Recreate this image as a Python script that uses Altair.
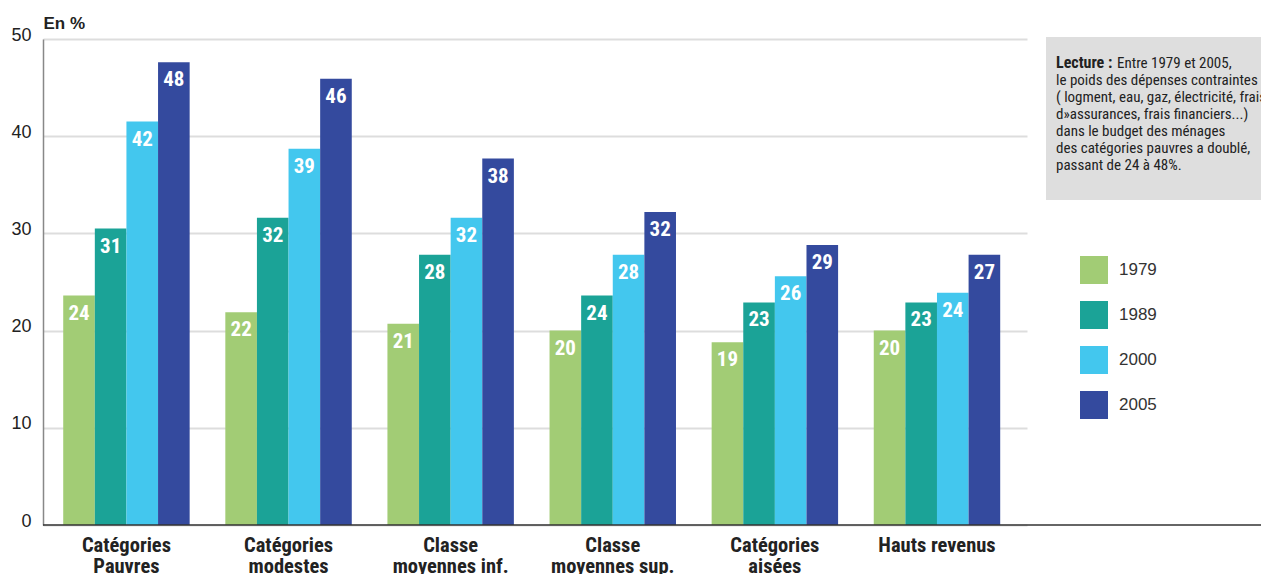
import altair as alt
import pandas as pd

categories = ["Catégories|Pauvres", "Catégories|modestes", "Classe|moyennes inf.",
              "Classe|moyennes sup.", "Catégories|aisées", "Hauts revenus"]
years = ["1979", "1989", "2000", "2005"]
colors = ["#a2cc75", "#1ba397", "#43c7ee", "#344a9e"]

# bar heights (en %)
v1979 = [23.6, 21.9, 20.7, 20.0, 18.8, 20.0]
v1989 = [30.5, 31.6, 27.8, 23.6, 22.9, 22.9]
v2000 = [41.5, 38.7, 31.6, 27.8, 25.6, 23.9]
v2005 = [47.6, 45.9, 37.7, 32.2, 28.8, 27.8]
# printed labels
l1979 = [24, 22, 21, 20, 19, 20]
l1989 = [31, 32, 28, 24, 23, 23]
l2000 = [42, 39, 32, 28, 26, 24]
l2005 = [48, 46, 38, 32, 29, 27]

lecture_bold = "Lecture :"
lecture_first = "Entre 1979 et 2005,"
lecture_rest = [
    "le poids des dépenses contraintes",
    "( logment, eau, gaz, électricité, frais",
    "d»assurances, frais financiers...)",
    "dans le budget des ménages",
    "des catégories pauvres a doublé,",
    "passant de 24 à 48%.",
]

rows = []
for y, vals, labs in zip(years, [v1979, v1989, v2000, v2005], [l1979, l1989, l2000, l2005]):
    for c, v, l in zip(categories, vals, labs):
        rows.append({"cat": c, "year": y, "value": v, "label": str(l)})
df = pd.DataFrame(rows)

NARROW = "Roboto Condensed, Roboto, Liberation Sans, sans-serif"
REG = "Liberation Sans, Arial, Helvetica, sans-serif"

x_enc = alt.X("cat:N", sort=categories, title=None,
              scale=alt.Scale(paddingInner=0.22, paddingOuter=0.145, align=0.43),
              axis=alt.Axis(labelExpr="split(datum.label, '|')", labelFont=NARROW,
                            labelFontSize=20.5, labelFontWeight="bold", labelColor="#222",
                            labelLineHeight=21, labelPadding=10, labelBaseline="top",
                            ticks=False, domain=False, grid=False, labelAngle=0))
xo_enc = alt.XOffset("year:N", sort=years, scale=alt.Scale(paddingInner=0, paddingOuter=0))
y_enc = alt.Y("value:Q", scale=alt.Scale(domain=[0, 50], nice=False),
              axis=alt.Axis(values=[0, 10, 20, 30, 40, 50], title="En %", titleAngle=0,
                            titleX=0, titleY=-16, titleAlign="left", titleBaseline="middle",
                            titleFont=REG, titleFontSize=17, titleFontWeight="bold",
                            titleColor="#222", labelFont=REG, labelFontSize=18,
                            labelColor="#222", labelPadding=12, labelOffset=-4,
                            ticks=False, domain=True, domainColor="#888", domainWidth=1.5,
                            grid=True, gridColor="#dddddd", gridWidth=2))

bars = alt.Chart(df).mark_bar().encode(
    x=x_enc, xOffset=xo_enc, y=y_enc,
    color=alt.Color("year:N", sort=years, scale=alt.Scale(domain=years, range=colors),
                    legend=alt.Legend(orient="none", legendX=1037, legendY=217, title=None,
                                      symbolType="square", symbolSize=784,
                                      symbolStrokeWidth=0, symbolOpacity=1,
                                      labelFont=REG, labelFontSize=17, labelColor="#333",
                                      labelOffset=11, rowPadding=17, padding=0)),
)

labels = alt.Chart(df).mark_text(dy=18, baseline="middle", align="center", color="white",
                                 font=NARROW, fontSize=21, fontWeight="bold").encode(
    x=alt.X("cat:N", sort=categories), xOffset=alt.XOffset("year:N", sort=years),
    y=alt.Y("value:Q"), text="label:N")

base_df = pd.DataFrame({"value": [0]})
baseline = alt.Chart(base_df).mark_rule(color="#333", strokeWidth=1.5).encode(
    y=alt.Y("value:Q"), x=alt.value(0), x2=alt.value(1240))

box = alt.Chart(base_df).mark_rect(color="#dedede").encode(
    x=alt.value(1003), x2=alt.value(1240), y=alt.value(-2), y2=alt.value(161))

t_bold = alt.Chart(base_df).mark_text(align="left", baseline="alphabetic", font=NARROW,
                                      fontSize=16, fontWeight="bold", color="#222").encode(
    x=alt.value(1013), y=alt.value(29), text=alt.value(lecture_bold))
t_first = alt.Chart(base_df).mark_text(align="left", baseline="alphabetic", font=NARROW,
                                       fontSize=15, color="#222").encode(
    x=alt.value(1074), y=alt.value(29), text=alt.value(lecture_first))
t_rest = alt.Chart(base_df).mark_text(align="left", baseline="alphabetic", font=NARROW,
                                      fontSize=15, color="#222", lineBreak="\n",
                                      lineHeight=17).encode(
    x=alt.value(1013), y=alt.value(46), text=alt.value("\n".join(lecture_rest)))

chart = alt.layer(bars, labels, baseline, box, t_bold, t_first, t_rest).properties(
    width=984, height=486,
    padding={"left": 35, "top": 31, "right": 234, "bottom": 49},
    autosize=alt.AutoSizeParams(type="none"),
).configure_view(stroke=None)

chart.save("out.html", embed_options={"renderer": "svg", "actions": False})
